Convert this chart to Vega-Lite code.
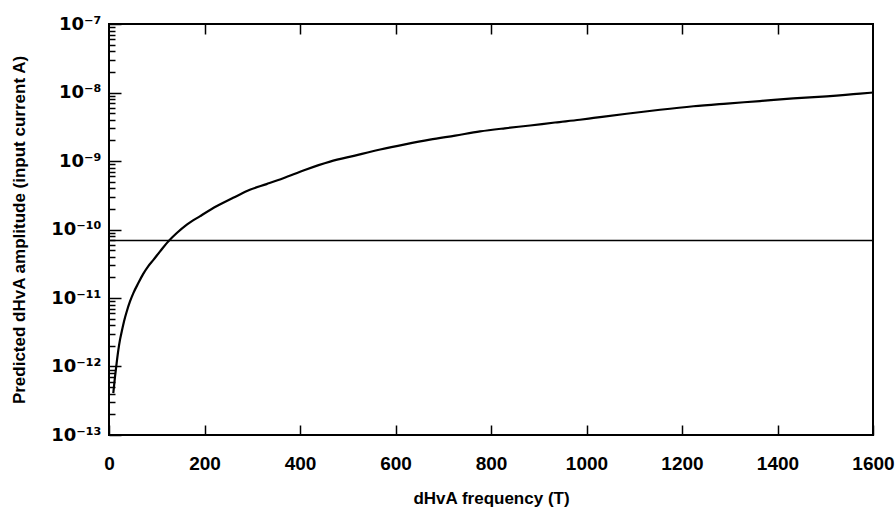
{
  "$schema": "https://vega.github.io/schema/vega-lite/v6.json",
  "width": 764,
  "height": 411,
  "autosize": "none",
  "padding": {"left": 109, "top": 24, "right": 23, "bottom": 72},
  "background": "white",
  "config": {
    "view": {"stroke": "black", "strokeWidth": 2},
    "axis": {
      "labelFont": "Liberation Sans",
      "titleFont": "Liberation Sans",
      "labelFontWeight": "bold",
      "titleFontWeight": "bold",
      "labelFontSize": 19,
      "titleFontSize": 17,
      "labelColor": "black",
      "titleColor": "black",
      "tickColor": "black",
      "domain": false,
      "grid": false
    }
  },
  "layer": [
    {
      "data": {
        "values": [
          {"F": 9, "A": 4.1e-13},
          {"F": 12.6, "A": 7.1e-13},
          {"F": 16, "A": 1.12e-12},
          {"F": 19.6, "A": 1.75e-12},
          {"F": 23, "A": 2.45e-12},
          {"F": 26.5, "A": 3.2e-12},
          {"F": 31.4, "A": 4.55e-12},
          {"F": 37, "A": 6.3e-12},
          {"F": 44, "A": 8.9e-12},
          {"F": 51, "A": 1.18e-11},
          {"F": 61.4, "A": 1.65e-11},
          {"F": 72, "A": 2.27e-11},
          {"F": 82, "A": 2.9e-11},
          {"F": 93, "A": 3.6e-11},
          {"F": 107, "A": 4.8e-11},
          {"F": 124, "A": 6.7e-11},
          {"F": 142, "A": 8.9e-11},
          {"F": 163, "A": 1.18e-10},
          {"F": 191, "A": 1.57e-10},
          {"F": 226, "A": 2.2e-10},
          {"F": 260, "A": 2.9e-10},
          {"F": 295, "A": 3.8e-10},
          {"F": 330, "A": 4.6e-10},
          {"F": 365, "A": 5.6e-10},
          {"F": 410, "A": 7.4e-10},
          {"F": 463, "A": 9.8e-10},
          {"F": 515, "A": 1.2e-9},
          {"F": 568, "A": 1.47e-9},
          {"F": 620, "A": 1.75e-9},
          {"F": 672, "A": 2.05e-9},
          {"F": 725, "A": 2.35e-9},
          {"F": 777, "A": 2.7e-9},
          {"F": 829, "A": 3.0e-9},
          {"F": 882, "A": 3.3e-9},
          {"F": 934, "A": 3.65e-9},
          {"F": 986, "A": 4.0e-9},
          {"F": 1015, "A": 4.25e-9},
          {"F": 1084, "A": 4.9e-9},
          {"F": 1154, "A": 5.6e-9},
          {"F": 1224, "A": 6.3e-9},
          {"F": 1294, "A": 6.9e-9},
          {"F": 1363, "A": 7.5e-9},
          {"F": 1433, "A": 8.2e-9},
          {"F": 1503, "A": 8.8e-9},
          {"F": 1573, "A": 9.6e-9},
          {"F": 1600, "A": 1.0e-8}
        ]
      },
      "mark": {"type": "line", "color": "black", "strokeWidth": 2.2, "clip": true, "interpolate": "monotone"},
      "encoding": {
        "x": {
          "field": "F",
          "type": "quantitative",
          "scale": {"domain": [0, 1600], "nice": false},
          "axis": {
            "orient": "bottom",
            "values": [0, 200, 400, 600, 800, 1000, 1200, 1400, 1600],
            "format": "d",
            "tickSize": -10,
            "tickWidth": 1.5,
            "labelPadding": 29,
            "title": "dHvA frequency (T)",
            "titlePadding": 17,
            "labelFlush": false
          }
        },
        "y": {
          "field": "A",
          "type": "quantitative",
          "scale": {"type": "log", "domain": [1e-13, 1e-7], "nice": false},
          "axis": {
            "orient": "left",
            "values": [1e-13, 2e-13, 3e-13, 4e-13, 5e-13, 6e-13, 7e-13, 8e-13, 9e-13,
                       1e-12, 2e-12, 3e-12, 4e-12, 5e-12, 6e-12, 7e-12, 8e-12, 9e-12,
                       1e-11, 2e-11, 3e-11, 4e-11, 5e-11, 6e-11, 7e-11, 8e-11, 9e-11,
                       1e-10, 2e-10, 3e-10, 4e-10, 5e-10, 6e-10, 7e-10, 8e-10, 9e-10,
                       1e-9, 2e-9, 3e-9, 4e-9, 5e-9, 6e-9, 7e-9, 8e-9, 9e-9,
                       1e-8, 2e-8, 3e-8, 4e-8, 5e-8, 6e-8, 7e-8, 8e-8, 9e-8, 1e-7],
            "labelExpr": "abs(log(datum.value)/LN10 - round(log(datum.value)/LN10)) < 0.01 ? ['10⁻¹³','10⁻¹²','10⁻¹¹','10⁻¹⁰','10⁻⁹','10⁻⁸','10⁻⁷'][round(log(datum.value)/LN10)+13] : ''",
            "labelFont": "DejaVu Sans",
            "labelFontSize": 18,
            "tickSize": {
              "condition": {"test": "abs(log(datum.value)/LN10 - round(log(datum.value)/LN10)) < 0.01", "value": -12},
              "value": -6
            },
            "tickWidth": 1.5,
            "labelPadding": 20,
            "labelOverlap": false,
            "labelFlush": false,
            "title": "Predicted dHvA amplitude (input current A)",
            "titlePadding": 22
          }
        }
      }
    },
    {
      "data": {"values": [{"A": 6.9e-11}]},
      "mark": {"type": "rule", "color": "black", "strokeWidth": 1.5},
      "encoding": {
        "y": {"field": "A", "type": "quantitative", "axis": null}
      }
    },
    {
      "data": {"values": [{"F": 0, "A": 1e-13}]},
      "mark": {"type": "point", "opacity": 0},
      "encoding": {
        "x": {
          "field": "F",
          "type": "quantitative",
          "axis": {
            "orient": "top",
            "values": [200, 400, 600, 800, 1000, 1200, 1400],
            "tickSize": -10,
            "tickWidth": 1.5,
            "labels": false,
            "title": null
          }
        }
      }
    }
  ],
  "resolve": {"axis": {"x": "independent", "y": "independent"}}
}
